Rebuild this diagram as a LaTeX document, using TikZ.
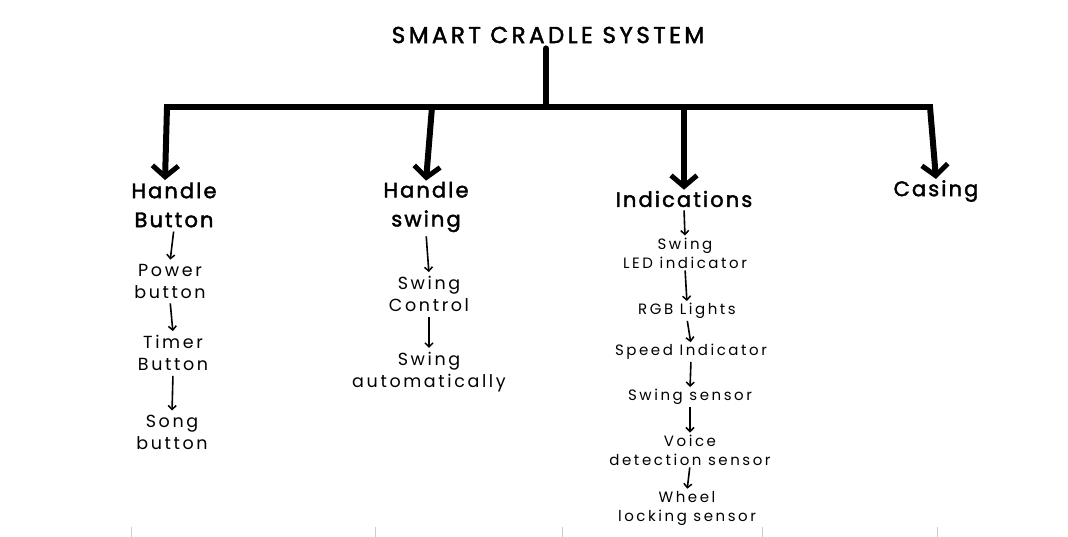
\documentclass[tikz,border=0pt]{standalone}
\usepackage{fontspec}
\setmainfont{Poppins}
\newfontfamily\titlefont{Poppins}[LetterSpace=15, FakeBold=2]
\newfontfamily\headfont{Poppins}[LetterSpace=10, FakeBold=2]
\newfontfamily\itemfont{Poppins}[LetterSpace=15]
\newfontfamily\smallfont{Poppins}[LetterSpace=17]
\usetikzlibrary{arrows.meta}
\begin{document}
\begin{tikzpicture}[x=1pt,y=-1pt,
  title/.style={font=\titlefont\fontsize{23}{26}\selectfont, inner sep=0pt},
  head/.style={font=\headfont\fontsize{21}{29}\selectfont, align=center, inner sep=1pt},
  item/.style={font=\itemfont\fontsize{17.5}{22}\selectfont, align=center, inner sep=2pt},
  small/.style={font=\smallfont\fontsize{15}{19}\selectfont, align=center, inner sep=0pt},
  thick line/.style={line width=6pt, line cap=round},
  big arrow/.style={line width=6pt, -{Straight Barb[length=11pt, width=26pt, line width=5pt]}},
  thin arrow/.style={line width=1.6pt, -{Straight Barb[length=4pt, width=8pt, line width=1.5pt]}, shorten >=2pt, shorten <=3pt},
  small arrow/.style={line width=1.6pt, -{Straight Barb[length=4pt, width=8pt, line width=1.5pt]}, shorten >=2pt, shorten <=2pt},
  tick/.style={draw=black!20, line width=0.8pt}
]
\useasboundingbox (0,0) rectangle (1068,537);

\node[title] (root) at (548,35) {SMART CRADLE SYSTEM};
\coordinate (trunk) at (546,107);
\coordinate (b1) at (167,107);
\coordinate (b2) at (432,107);
\coordinate (b3) at (684,107);
\coordinate (b4) at (930,107);

\node[head] (hb) at (174,205) {Handle\\Button};
\node[head] (hs) at (426,207) {Handle\\swing};
\node[head] (ind) at (684,199) {Indications};
\node[head] (cas) at (936,191) {Casing};

\draw[thick line] (root.south) ++(-2,5) -- (trunk);
\draw[line width=6pt] ([xshift=-3pt]b1) -- ([xshift=3pt]b4);
\draw[big arrow] (b1) -- (165,180) coordinate (e1);
\draw[big arrow] (b2) -- (hs.north);
\draw[big arrow] (b3) -- (ind.north);
\draw[big arrow] (b4) -- (cas.north);

% column 1
\node[item] (pb) at (170,281) {Power\\button};
\node[item] (tb) at (173,353) {Timer\\Button};
\node[item] (sb) at (172,432) {Song\\button};
\draw[thin arrow] (hb.south) -- (pb.north);
\draw[thin arrow] (pb.south) -- (tb.north);
\draw[thin arrow] (tb.south) -- (sb.north);

% column 2
\node[item] (sc) at (429,294) {Swing\\Control};
\node[item] (sa) at (429,372) {Swing\\automatically};
\draw[thin arrow] (hs.south) -- (sc.north);
\draw[thin arrow] (sc.south) -- (sa.north);

% column 3
\node[small] (led) at (685,253) {Swing\\LED indicator};
\node[small] (rgb) at (687,311) {RGB Lights};
\node[small] (spd) at (691,352) {Speed Indicator};
\node[small] (ss) at (690,397) {Swing sensor};
\node[small] (vd) at (690,450) {Voice\\detection sensor};
\node[small] (wl) at (687,508) {Wheel\\locking sensor};
\draw[small arrow] (ind.south) -- (led.north);
\draw[small arrow] (led.south) -- (rgb.north);
\draw[small arrow] (rgb.south) -- (spd.north);
\draw[small arrow] (spd.south) -- (ss.north);
\draw[small arrow] (ss.south) -- (vd.north);
\draw[small arrow] (vd.south) -- (wl.north);

% faint ticks at bottom
\foreach \x in {131,375,562,762,937} \draw[tick] (\x,527) -- (\x,537);
\end{tikzpicture}
\end{document}
